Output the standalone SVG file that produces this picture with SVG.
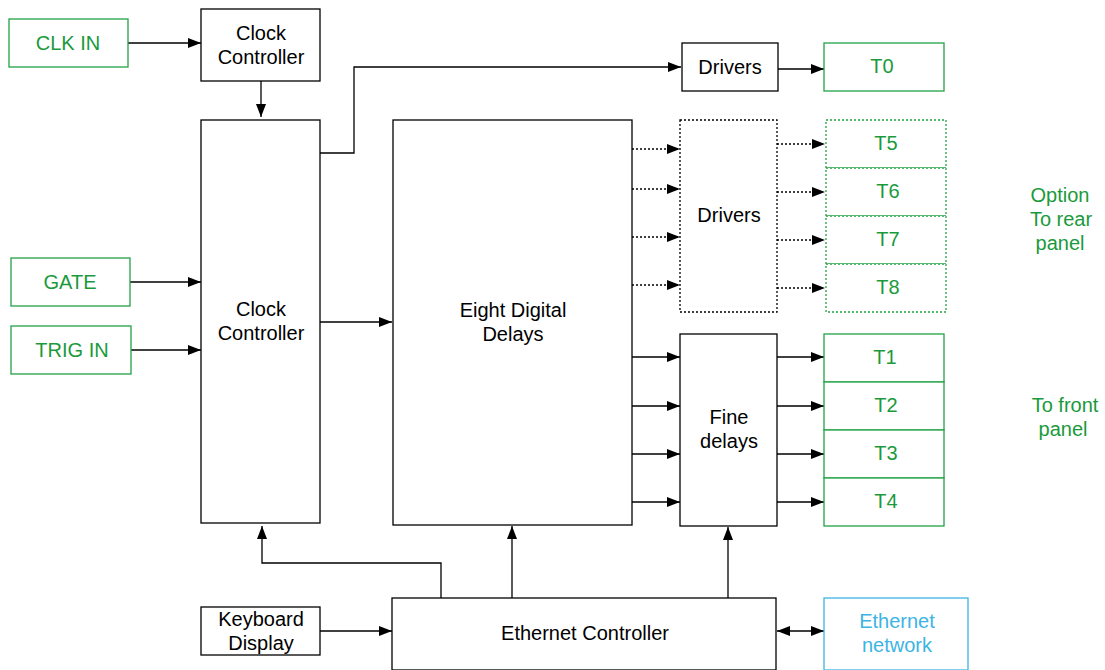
<svg xmlns="http://www.w3.org/2000/svg" width="1105" height="670" viewBox="0 0 1105 670">
<style>
text{font-family:"Liberation Sans",Arial,sans-serif;font-size:20px;text-anchor:middle;dominant-baseline:central}
.b{fill:#fff;stroke:#000;stroke-width:1.3}
.bd{fill:#fff;stroke:#000;stroke-width:1.3;stroke-dasharray:2,2}
.g{fill:#fff;stroke:#22a245;stroke-width:1.3}
.gd{fill:#fff;stroke:#22a245;stroke-width:1.3;stroke-dasharray:2,2}
.bl{fill:#fff;stroke:#3db4e4;stroke-width:1.3}
.gt{fill:#1a9a3c}
.blt{fill:#3db4e4}
.c{fill:none;stroke:#000;stroke-width:1.3}
.cd{fill:none;stroke:#000;stroke-width:1.3;stroke-dasharray:2,2}
</style>
<defs>
<marker id="a" markerWidth="13" markerHeight="10" refX="13" refY="5" orient="auto" markerUnits="userSpaceOnUse"><path d="M0,0 L13,5 L0,10 Z" fill="#000"/></marker>
<marker id="as" markerWidth="13" markerHeight="10" refX="0" refY="5" orient="auto" markerUnits="userSpaceOnUse"><path d="M13,0 L0,5 L13,10 Z" fill="#000"/></marker>
</defs>
<g id="connectors">
<path class="c" d="M128,43 H201" marker-end="url(#a)"/>
<path class="c" d="M261,81 V117" marker-end="url(#a)"/>
<path class="c" d="M130,282 H201" marker-end="url(#a)"/>
<path class="c" d="M131,350 H201" marker-end="url(#a)"/>
<path class="c" d="M320,153 H354 V67 H681" marker-end="url(#a)"/>
<path class="c" d="M778,69 H824" marker-end="url(#a)"/>
<path class="c" d="M320,322 H392" marker-end="url(#a)"/>
<path class="cd" d="M632,149 H680" marker-end="url(#a)"/>
<path class="cd" d="M632,189 H680" marker-end="url(#a)"/>
<path class="cd" d="M632,237 H680" marker-end="url(#a)"/>
<path class="cd" d="M632,285 H680" marker-end="url(#a)"/>
<path class="cd" d="M777,144 H825" marker-end="url(#a)"/>
<path class="cd" d="M777,192 H825" marker-end="url(#a)"/>
<path class="cd" d="M777,240 H825" marker-end="url(#a)"/>
<path class="cd" d="M777,288 H825" marker-end="url(#a)"/>
<path class="c" d="M632,357 H680" marker-end="url(#a)"/>
<path class="c" d="M632,406 H680" marker-end="url(#a)"/>
<path class="c" d="M632,454 H680" marker-end="url(#a)"/>
<path class="c" d="M632,502 H680" marker-end="url(#a)"/>
<path class="c" d="M777,357 H824" marker-end="url(#a)"/>
<path class="c" d="M777,406 H824" marker-end="url(#a)"/>
<path class="c" d="M777,454 H824" marker-end="url(#a)"/>
<path class="c" d="M777,502 H824" marker-end="url(#a)"/>
<path class="c" d="M441,598 V563 H262 V526" marker-end="url(#a)"/>
<path class="c" d="M512,598 V526" marker-end="url(#a)"/>
<path class="c" d="M728,598 V527" marker-end="url(#a)"/>
<path class="c" d="M320,631 H392" marker-end="url(#a)"/>
<path class="c" d="M777,631 H824" marker-start="url(#as)" marker-end="url(#a)"/>
</g>
<g id="clkin"><rect class="g" x="9" y="19" width="119" height="48"/><text class="gt" x="68" y="43">CLK IN</text></g>
<g id="clockctl1"><rect class="b" x="201" y="9" width="119" height="72"/><text x="261" y="33">Clock</text><text x="261" y="57">Controller</text></g>
<g id="clockctl2"><rect class="b" x="201" y="120" width="119" height="403"/><text x="261" y="309">Clock</text><text x="261" y="333">Controller</text></g>
<g id="gate"><rect class="g" x="11" y="258" width="119" height="48"/><text class="gt" x="70" y="282">GATE</text></g>
<g id="trigin"><rect class="g" x="11" y="326" width="120" height="48"/><text class="gt" x="72" y="350">TRIG IN</text></g>
<g id="drivers0"><rect class="b" x="682" y="43" width="96" height="48"/><text x="730" y="67">Drivers</text></g>
<g id="t0"><rect class="g" x="824" y="43" width="120" height="48"/><text class="gt" x="882" y="66">T0</text></g>
<g id="eightdelays"><rect class="b" x="393" y="120" width="239" height="405"/><text x="513" y="310">Eight Digital</text><text x="513" y="334">Delays</text></g>
<g id="drivers1"><rect class="bd" x="680" y="120" width="97" height="192"/><text x="729" y="215">Drivers</text></g>
<g id="t5"><rect class="gd" x="826" y="120" width="120" height="48"/><text class="gt" x="886" y="143">T5</text></g>
<g id="t6"><rect class="gd" x="826" y="168" width="120" height="48"/><text class="gt" x="888" y="191">T6</text></g>
<g id="t7"><rect class="gd" x="826" y="216" width="120" height="48"/><text class="gt" x="888" y="239">T7</text></g>
<g id="t8"><rect class="gd" x="826" y="264" width="120" height="48"/><text class="gt" x="888" y="287">T8</text></g>
<g id="finedelays"><rect class="b" x="680" y="334" width="97" height="192"/><text x="729" y="417">Fine</text><text x="729" y="441">delays</text></g>
<g id="t1"><rect class="g" x="824" y="334" width="120" height="48"/><text class="gt" x="885" y="357">T1</text></g>
<g id="t2"><rect class="g" x="824" y="382" width="120" height="48"/><text class="gt" x="886" y="405">T2</text></g>
<g id="t3"><rect class="g" x="824" y="430" width="120" height="48"/><text class="gt" x="886" y="453">T3</text></g>
<g id="t4"><rect class="g" x="824" y="478" width="120" height="48"/><text class="gt" x="886" y="501">T4</text></g>
<g id="keyboard"><rect class="b" x="201" y="607" width="119" height="48"/><text x="261" y="619">Keyboard</text><text x="261" y="643">Display</text></g>
<g id="ethctl"><rect class="b" x="392" y="598" width="384" height="72"/><text x="585" y="633">Ethernet Controller</text></g>
<g id="ethnet"><rect class="bl" x="824" y="598" width="144" height="72"/><text class="blt" x="897" y="621">Ethernet</text><text class="blt" x="897" y="645">network</text></g>
<g id="rearlabel"><text class="gt" x="1060" y="195">Option</text><text class="gt" x="1061" y="219">To rear</text><text class="gt" x="1060" y="243">panel</text></g>
<g id="frontlabel"><text class="gt" x="1065" y="405">To front</text><text class="gt" x="1063" y="429">panel</text></g>
</svg>
